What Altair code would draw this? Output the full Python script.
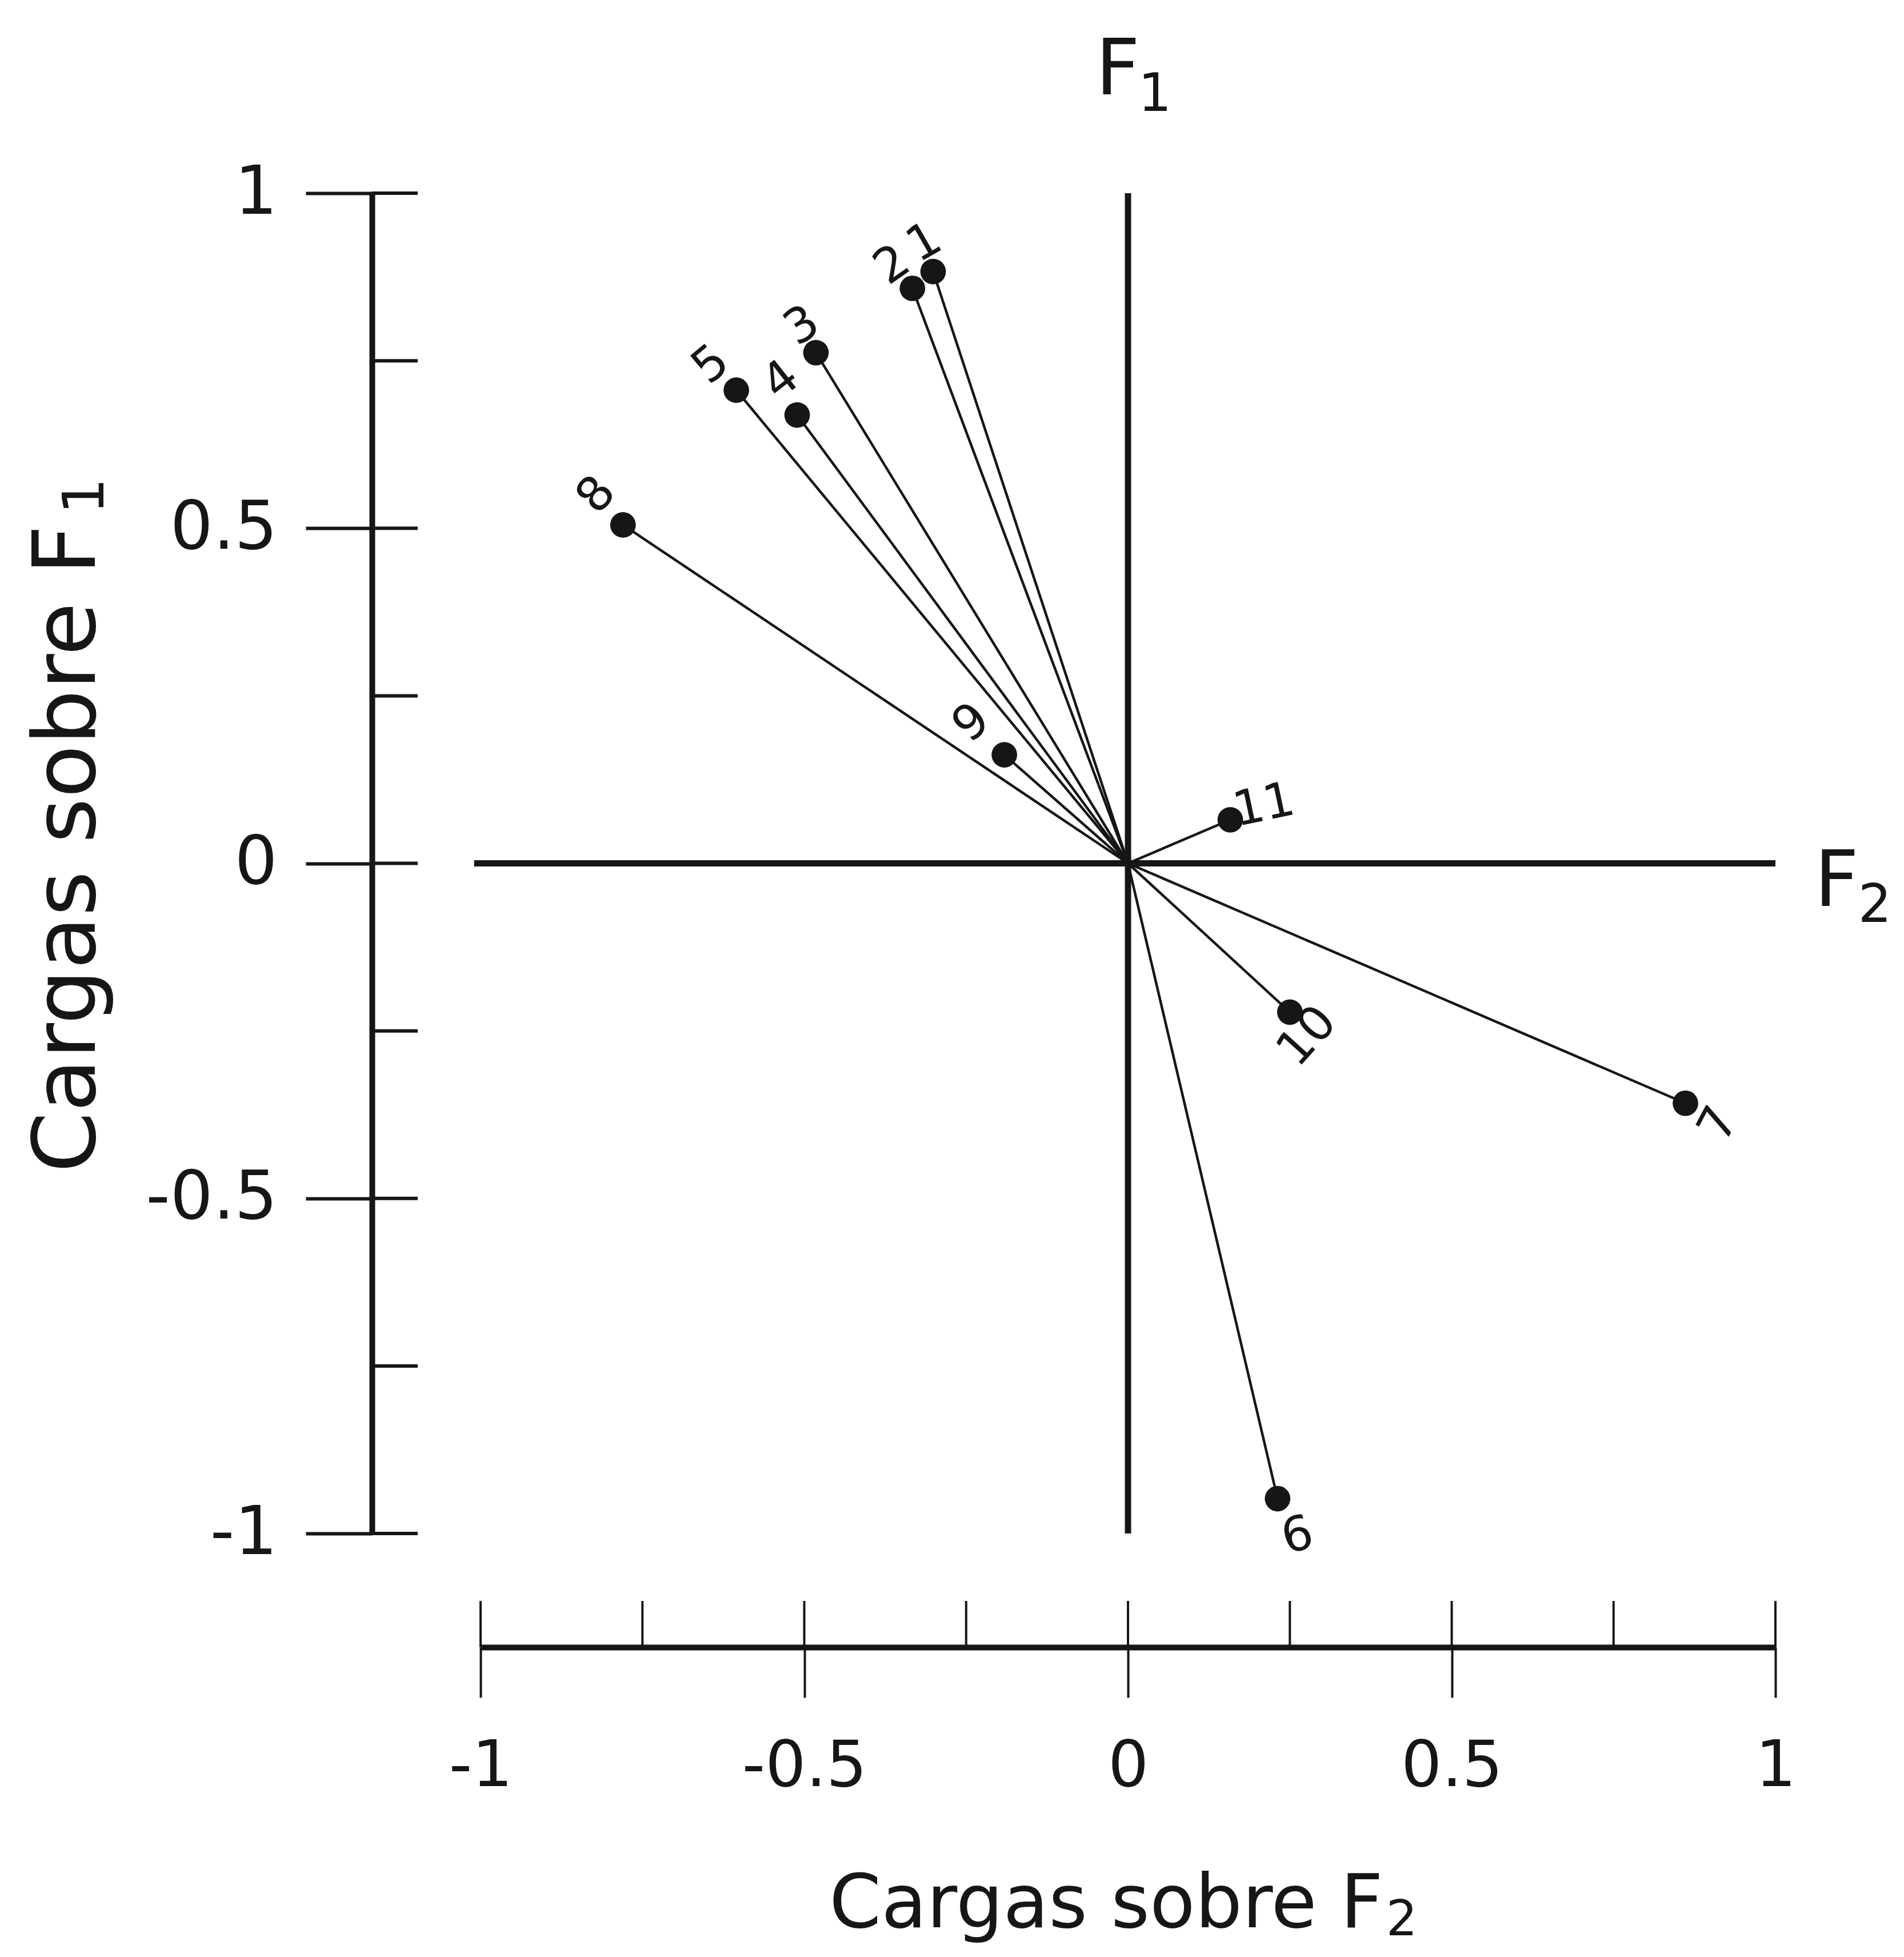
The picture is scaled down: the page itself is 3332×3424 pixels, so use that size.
import altair as alt
import pandas as pd

# ---- data ----
variables = ["1", "2", "3", "4", "5", "6", "7", "8", "9", "10", "11"]
f2_loadings = [-0.301, -0.333, -0.482, -0.511, -0.605, 0.231, 0.861, -0.780, -0.191, 0.250, 0.158]
f1_loadings = [0.883, 0.858, 0.762, 0.669, 0.706, -0.948, -0.358, 0.505, 0.162, -0.222, 0.065]

all_ticks = [-1, -0.75, -0.5, -0.25, 0, 0.25, 0.5, 0.75, 1]
major_ticks = [-1, -0.5, 0, 0.5, 1]

# ---- label layout (pixel offsets from the point, rotation) ----
label_dx = [-15, -35, -24, -28, -44, 35, 59, -46, -57, 31, 59]
label_dy = [-50, -40, -46, -60, -44, 66, 37, -52, -55, 43, -24]
label_angle = [-30, -35, -32, -38, -40, -15, -62, -50, -40, -48, -12]

W, H = 2266, 2345
INK = "#161616"
FONT = "DejaVu Sans"

px_x = W / 2.0
px_y = H / 2.0

pts = pd.DataFrame({
    "var": variables,
    "f2": f2_loadings,
    "f1": f1_loadings,
    "o": [0.0] * len(variables),
})
pts["lx"] = [x + dx / px_x for x, dx in zip(f2_loadings, label_dx)]
pts["ly"] = [y - dy / px_y for y, dy in zip(f1_loadings, label_dy)]
pts["ang"] = [a % 360 for a in label_angle]

ticks_df = pd.DataFrame({"t": all_ticks})
inner_axes = pd.DataFrame({"x": [-1.01, 0.0], "x2": [1.0, 0.0], "y": [0.0, 1.0], "y2": [0.0, -1.0]})

xs = alt.Scale(domain=[-1, 1], nice=False, zero=False)
ys = alt.Scale(domain=[-1, 1], nice=False, zero=False)

x_axis = alt.Axis(values=major_ticks, offset=199, domainWidth=10, domainColor=INK,
                  tickSize=88, tickWidth=4, tickColor=INK, grid=False, title=None,
                  labelFontSize=112, labelFont=FONT, labelColor=INK, labelPadding=66,
                  labelLimit=0,
                  labelExpr="toString(datum.value)", labelFlush=False, labelOverlap=False)
y_axis = alt.Axis(values=major_ticks, offset=190, domainWidth=10, domainColor=INK,
                  tickSize=116, tickWidth=6, tickColor=INK, grid=False, title=None,
                  labelFontSize=118, labelFont=FONT, labelColor=INK, labelPadding=50,
                  labelLimit=0,
                  labelExpr="toString(datum.value)", labelFlush=False, labelOverlap=False)


def X(field):
    return alt.X(field, type="quantitative", scale=xs, axis=x_axis)


def Y(field):
    return alt.Y(field, type="quantitative", scale=ys, axis=y_axis)


axes_layer = alt.Chart(inner_axes).mark_rule(color=INK, strokeWidth=11).encode(
    x=X("x"), x2="x2", y=Y("y"), y2="y2")

vectors = alt.Chart(pts).mark_rule(color=INK, strokeWidth=4.5).encode(
    x=X("o"), x2="f2", y=Y("o"), y2="f1")

points = alt.Chart(pts).mark_circle(color=INK, opacity=1, size=2000).encode(
    x=X("f2"), y=Y("f1"))

labels = alt.Chart(pts).mark_text(color=INK, font=FONT, fontSize=84, align="center",
                                  baseline="middle").encode(
    x=X("lx"), y=Y("ly"), text="var:N", angle=alt.Angle("ang:Q", scale=None))

x_inner_ticks = alt.Chart(ticks_df).mark_rule(color=INK, strokeWidth=4).encode(
    x=X("t"), y=alt.value(H + 199 - 81), y2=alt.value(H + 199))

y_inner_ticks = alt.Chart(ticks_df).mark_rule(color=INK, strokeWidth=6).encode(
    y=Y("t"), x=alt.value(-190), x2=alt.value(-110))


def txt(s, px, py, size, angle=0):
    return alt.Chart(pd.DataFrame({"s": [s]})).mark_text(
        color=INK, font=FONT, fontSize=size, align="center", baseline="middle",
        angle=angle).encode(text="s:N", x=alt.value(px), y=alt.value(py))


annotations = [
    txt("F", 1115, -214, 135), txt("1", 1180, -172, 92),
    txt("F", 2373, 1206, 135), txt("2", 2440, 1247, 92),
    txt("Cargas sobre F", 1095, 2995, 130), txt("2", 1612, 3022, 86),
    txt("Cargas sobre F", -721, 1147, 152, 270), txt("1", -690, 530, 100, 270),
]

chart = alt.layer(
    axes_layer, vectors, points, labels, x_inner_ticks, y_inner_ticks, *annotations
).properties(
    width=W, height=H,
    autosize=alt.AutoSizeParams(type="none"),
    padding={"left": 833, "top": 330, "right": 217, "bottom": 733},
    background="white",
).configure_view(stroke=None)

chart.save("out.html", embed_options={"renderer": "svg", "actions": False})
